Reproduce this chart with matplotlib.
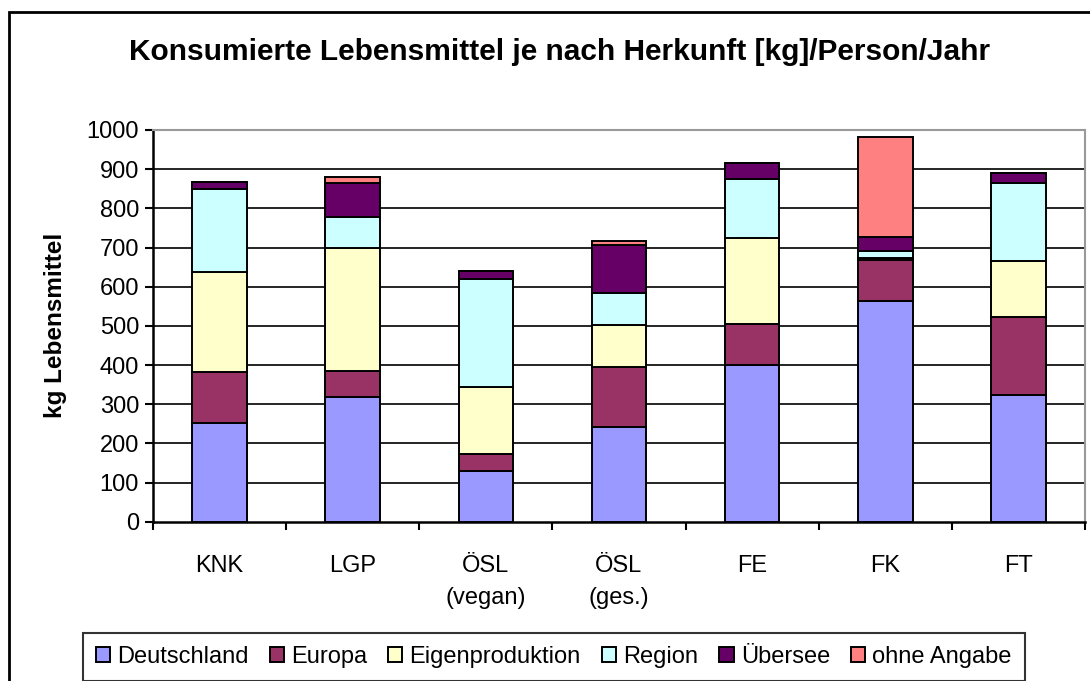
import matplotlib
matplotlib.use("Agg")
import matplotlib.pyplot as plt
import numpy as np
from matplotlib.patches import Rectangle

plt.rcParams['font.family'] = ['Liberation Sans', 'DejaVu Sans']

# Werte (kg/Person/Jahr)
gruppen = ["KNK", "LGP", "ÖSL\n(vegan)", "ÖSL\n(ges.)", "FE", "FK", "FT"]
deutschland = [253, 319, 130, 243, 400, 564, 324]
europa = [128, 67, 42, 153, 105, 104, 199]
eigenproduktion = [256, 312, 173, 107, 219, 6, 143]
region = [213, 81, 275, 82, 152, 18, 199]
uebersee = [16, 86, 21, 121, 41, 36, 26]
ohne_angabe = [0, 16, 0, 11, 0, 255, 0]

serien = [
    ("Deutschland", deutschland, "#9999FF"),
    ("Europa", europa, "#993366"),
    ("Eigenproduktion", eigenproduktion, "#FFFFCC"),
    ("Region", region, "#CCFFFF"),
    ("Übersee", uebersee, "#660066"),
    ("ohne Angabe", ohne_angabe, "#FF8080"),
]

fig = plt.figure(figsize=(10.9, 6.81), dpi=100)
ax = fig.add_axes([153 / 1090, 1 - 521.7 / 681, (1085 - 153) / 1090, (521.7 - 130) / 681])

# Rahmen um das ganze Diagramm
fig.patches.append(Rectangle((9 / 1090, -0.05), 1.1, 1.05 - 12 / 681,
                             transform=fig.transFigure, fill=False,
                             edgecolor="black", linewidth=2))

x = np.arange(len(gruppen))
unten = np.zeros(len(gruppen))
for name, werte, farbe in serien:
    werte = np.array(werte, dtype=float)
    ax.bar(x, werte, 0.41, bottom=unten, color=farbe, edgecolor="black",
           linewidth=1.4, label=name, zorder=3)
    unten += werte

ax.set_xlim(-0.5, len(gruppen) - 0.5)
ax.set_ylim(0, 1000)
yt = np.arange(0, 1001, 100)
ax.set_yticks(yt)
ax.hlines(yt[1:-1], -0.5, len(gruppen) - 0.5, colors="black", linewidth=1.2, zorder=1)

ax.set_xticks(x)
ax.set_xticklabels(gruppen, fontsize=17, linespacing=1.6)
ax.set_xticks(np.arange(-0.5, len(gruppen)), minor=True)
ax.tick_params(axis="x", which="major", length=0, pad=24)
ax.tick_params(axis="x", which="minor", length=6, width=1.5, direction="out")
ax.tick_params(axis="y", length=6, width=1.5, direction="out", labelsize=17, pad=4)

for s in ("left", "bottom"):
    ax.spines[s].set_linewidth(1.8)
    ax.spines[s].set_color("black")
for s in ("top", "right"):
    ax.spines[s].set_linewidth(1.5)
    ax.spines[s].set_color("#999999")

ax.set_ylabel("kg Lebensmittel", fontsize=17.5, fontweight="bold", labelpad=14)

fig.text(560 / 1090, 1 - 52 / 681, "Konsumierte Lebensmittel je nach Herkunft [kg]/Person/Jahr",
         ha="center", va="center", fontsize=21.5, fontweight="bold")

leg = fig.legend(loc="center", bbox_to_anchor=(553.7 / 1090, 1 - 657 / 681), ncol=6,
                 fontsize=17, frameon=True, fancybox=False, edgecolor="black",
                 handlelength=0.6, handleheight=0.6, handletextpad=0.3,
                 columnspacing=0.9, borderpad=0.55)
leg.get_frame().set_linewidth(1.5)

fig.savefig("out.png", dpi=100)
